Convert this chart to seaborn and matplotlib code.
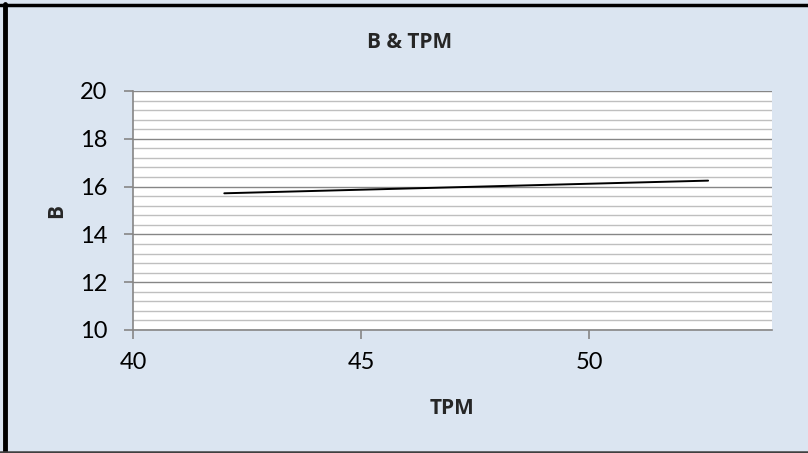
import matplotlib
matplotlib.use("Agg")
import matplotlib.pyplot as plt
import seaborn as sns
import pandas as pd
from matplotlib.ticker import MultipleLocator
from matplotlib.lines import Line2D

tpm = [42.0, 52.6]
b_vals = [15.72, 16.25]
title = "B & TPM"
xlabel = "TPM"
ylabel = "B"

sns.set_theme(style="white")
plt.rcParams['font.family'] = ['Lato', 'DejaVu Sans']

bg = "#dbe5f1"
W, H = 808, 453
fig = plt.figure(figsize=(W/100, H/100), dpi=100, facecolor=bg)
ax = fig.add_axes([133/W, 1 - 330/H, (772-133)/W, (330-91)/H])
ax.set_facecolor("white")

df = pd.DataFrame({"TPM": tpm, "B": b_vals})
sns.lineplot(data=df, x="TPM", y="B", ax=ax, color="black", linewidth=1.4, zorder=5)

ax.set_xlim(40, 54)
ax.set_ylim(10, 20)
ax.xaxis.set_major_locator(MultipleLocator(5))
ax.yaxis.set_major_locator(MultipleLocator(2))
ax.yaxis.set_minor_locator(MultipleLocator(0.4))
ax.grid(which="major", axis="y", color="#868686", linewidth=1.0, zorder=1)
ax.grid(which="minor", axis="y", color="#bfbfbf", linewidth=1.0, zorder=1)
ax.grid(False, axis="x", which="both")
ax.set_axisbelow(True)

for s in ["top", "right"]:
    ax.spines[s].set_visible(False)
for s in ["left", "bottom"]:
    ax.spines[s].set_color("#868686")
    ax.spines[s].set_linewidth(1.2)

ax.tick_params(axis="both", which="major", direction="out", length=6.5, width=1.2,
               color="#868686", labelsize=17, labelcolor="black")
ax.tick_params(axis="y", which="major", pad=12)
ax.tick_params(axis="y", which="minor", length=0)
ax.tick_params(axis="x", which="major", pad=9)
ax.tick_params(left=True, bottom=True)

ax.set_xlabel("")
ax.set_ylabel("")
bold = dict(family=['Open Sans', 'DejaVu Sans'], fontweight="bold", fontsize=15)
fig.text(452/W, 1 - 409/H, xlabel, ha="center", va="center", **bold)
fig.text(57/W, 1 - 211/H, ylabel, ha="center", va="center", rotation=90, **bold)
fig.text(410/W, 1 - 43/H, title, ha="center", va="center", **bold)

# outer border (no right edge, as in the reference)
fig.add_artist(Line2D([0, 1], [1 - 5/H, 1 - 5/H], transform=fig.transFigure, color="black", linewidth=2.5))
fig.add_artist(Line2D([4.5/W, 4.5/W], [0, 1 - 4/H], transform=fig.transFigure, color="black", linewidth=3.5))
fig.add_artist(Line2D([0, 1], [1/H, 1/H], transform=fig.transFigure, color="#404040", linewidth=1.8))

fig.savefig("out.png", dpi=100, facecolor=bg)
